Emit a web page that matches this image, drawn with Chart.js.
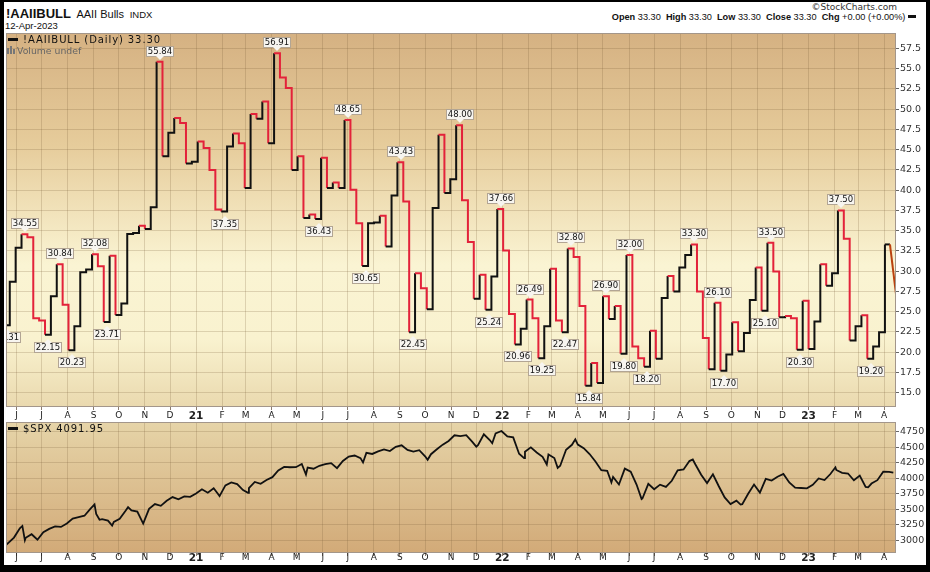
<!DOCTYPE html>
<html>
<head>
<meta charset="utf-8">
<script src="https://cdn.jsdelivr.net/npm/chart.js@4/dist/chart.umd.min.js"></script>
<style>
  html, body { margin: 0; padding: 0; background: #000; width: 930px; height: 572px; overflow: hidden; }
  #frame { position: absolute; left: 4px; top: 2px; width: 922px; height: 563px; background: #fff; }
  canvas { position: absolute; left: 0; }
  .t { position: absolute; white-space: nowrap; color: #111; }
  .sw { display: inline-block; width: 10px; height: 3px; background: #111; vertical-align: middle; margin-right: 5px; position: relative; top: -1px; }
</style>
</head>
<body>
<div id="frame"></div>

<div class="t" style="left:6px; top:6px; font: bold 13px 'Liberation Sans';">!AAIIBULL
  <span style="font: 11px 'Liberation Sans'; margin-left:2px;">AAII Bulls</span>
  <span style="font: 9.5px 'Liberation Sans'; margin-left:2px;">INDX</span></div>
<div class="t" style="left:5px; top:20px; font: 9.5px 'Liberation Sans';">12-Apr-2023</div>
<div class="t" style="right:33px; top:2px; font: 9px 'DejaVu Sans'; color:#333;">&copy;StockCharts.com</div>
<div class="t" style="right:14px; top:12px; font: 9.2px 'Liberation Sans';">
  <b>Open</b> 33.30&nbsp; <b>High</b> 33.30&nbsp; <b>Low</b> 33.30&nbsp; <b>Close</b> 33.30&nbsp; <b>Chg</b> +0.00 (+0.00%) <span class="sw" style="width:8px; margin:0;"></span></div>

<canvas id="bulls" width="930" height="422" style="top:0"></canvas>
<canvas id="spx" width="930" height="160" style="top:408px"></canvas>

<div class="t" style="left:8px; top:34px; font: 10px 'DejaVu Sans'; letter-spacing:0.9px;"><span class="sw"></span>!AAIIBULL (Daily) 33.30</div>
<div class="t" style="left:7px; top:45px; font: 9.3px 'DejaVu Sans'; color:#666;"><span style="display:inline-block;width:2px;height:6px;background:#777;margin-right:1px;"></span><span style="display:inline-block;width:2px;height:8px;background:#777;margin-right:1px;"></span><span style="display:inline-block;width:2px;height:5px;background:#777;margin-right:2px;"></span>Volume undef</div>
<div class="t" style="left:8px; top:423px; font: 10px 'DejaVu Sans'; letter-spacing:0.9px;"><span class="sw"></span>$SPX 4091.95</div>

<script>
// x positions are days counted from 1 Jun 2020
const DAY0 = Date.UTC(2020, 5, 1);
const dayOf = s => (Date.parse(s + 'T00:00:00Z') - DAY0) / 86400000;

const monthLabels = ['J','J','A','S','O','N','D',
  '21','F','M','A','M','J','J','A','S','O','N','D',
  '22','F','M','A','M','J','J','A','S','O','N','D',
  '23','F','M','A'];
const monthDays = monthLabels.map((_, i) => dayOf(new Date(Date.UTC(2020, 5 + i, 1)).toISOString().slice(0, 10)));

const xMin = -12.5, xMax = 1048.2;

// AAII bulls, weekly readings (%), first one at day -15
const bullFirstDay = -15;
const bullValues = [
  23.31, 28.70, 32.90, 34.55, 34.20, 24.20, 23.90, 22.15, 26.90, 30.84,
  25.85, 20.23, 23.20, 29.85, 30.20, 32.08, 30.60, 23.71, 31.90, 24.60,
  26.00, 34.60, 34.70, 35.60, 35.20, 37.90, 55.84, 44.20, 47.10, 48.90,
  48.30, 43.30, 43.50, 46.00, 45.20, 42.50, 37.60, 37.35, 45.40, 47.00,
  45.80, 40.25, 49.40, 48.80, 50.95, 45.80, 56.91, 53.90, 52.60, 42.50,
  44.20, 36.55, 37.00, 36.43, 44.00, 40.25, 40.95, 40.25, 48.65, 40.05,
  35.90, 30.65, 35.90, 36.00, 36.85, 33.05, 39.35, 43.43, 38.60, 22.45,
  29.75, 27.90, 25.30, 37.80, 46.85, 39.65, 41.35, 48.00, 38.75, 33.60,
  26.60, 29.55, 25.24, 29.35, 37.66, 32.55, 24.70, 20.96, 22.90, 26.49,
  24.20, 19.25, 23.20, 30.30, 23.90, 22.47, 32.80, 31.75, 25.70, 15.84,
  18.65, 16.20, 26.90, 24.10, 25.70, 19.80, 32.00, 20.70, 19.25, 18.20,
  22.65, 19.20, 26.70, 29.40, 27.50, 30.45, 32.00, 33.30, 27.50, 21.75,
  17.90, 26.10, 17.70, 19.70, 23.70, 20.10, 22.35, 26.45, 30.45, 25.10,
  33.50, 29.95, 24.30, 24.45, 24.20, 20.30, 26.35, 20.40, 23.80, 30.85,
  28.20, 29.75, 37.50, 34.00, 21.45, 23.20, 24.55, 19.20, 20.70, 22.45,
  33.30
];
const bullDays = bullValues.map((_, i) => bullFirstDay + 7 * i);
// last, partly drawn reading at the right edge
const tailDays = [1041, 1049];
const tailValues = [33.30, 26.50];

// labelled turning points (indexes into bullValues)
const peakIdx = [3, 9, 15, 26, 46, 58, 67, 77, 84, 89, 96, 102, 106, 117, 121, 130, 142];
const troughIdx = [0, 7, 11, 17, 37, 53, 61, 69, 82, 87, 91, 95, 99, 105, 109, 122, 129, 135, 147];

const bullTicks = [15, 17.5, 20, 22.5, 25, 27.5, 30, 32.5, 35, 37.5, 40, 42.5, 45, 47.5, 50, 52.5, 55, 57.5];
const bullMin = 13.23, bullMax = 59.4;

// S&P 500 weekly closes from 15 May 2020, last one 12 Apr 2023
const spxFirstDay = dayOf('2020-05-15');
const spxLastDay = dayOf('2023-04-12');
const spxWeekly = [
  2864, 2955, 3044, 3194, 3041, 3098, 3009, 3130, 3185, 3225, 3216, 3271,
  3351, 3373, 3397, 3508, 3427, 3341, 3319, 3298, 3348, 3477, 3484, 3465,
  3270, 3509, 3585, 3557, 3638, 3699, 3663, 3709, 3703, 3756,
  3825, 3768, 3841, 3714, 3887, 3934, 3907, 3811, 3842, 3943, 3913, 3975,
  4020, 4129, 4185, 4180, 4181, 4233, 4174, 4156, 4204, 4230, 4247, 4166, 4281,
  4352, 4370, 4327, 4412, 4395, 4437, 4468, 4442, 4509, 4535, 4459, 4433, 4455,
  4357, 4391, 4471, 4545, 4605, 4697, 4683, 4698, 4595, 4538, 4712, 4620, 4726, 4766,
  4677, 4663, 4398, 4432, 4501, 4419, 4349, 4385, 4329, 4204, 4463, 4543,
  4546, 4488, 4393, 4272, 4132, 4123, 4024, 3901, 4158, 4109, 3901, 3675, 3912,
  3825, 3899, 3863, 3962, 4130, 4145, 4280, 4228, 4058, 3924, 4067, 3873, 3693, 3586,
  3640, 3583, 3752, 3901, 3771, 3993, 3965, 4026, 4072, 3934, 3852, 3845, 3840,
  3895, 3999, 3973, 4071, 4136, 4090, 4079, 3970, 4046, 3862, 3917, 3971, 4109,
  4105, 4092
];
// mid-week highs and lows that show as spikes on the daily line
const spxExtraDates = ['2020-06-08', '2020-06-11', '2020-09-02', '2020-09-08', '2020-09-23', '2020-10-12',
  '2021-01-27', '2021-03-04', '2021-05-12', '2021-07-19', '2021-10-04', '2021-12-01', '2021-12-20',
  '2022-01-27', '2022-02-23', '2022-03-08', '2022-03-29', '2022-05-11', '2022-06-16', '2022-08-16',
  '2022-10-12', '2023-02-02', '2023-03-13'];
const spxExtraValues = [3232, 3002, 3580, 3332, 3237, 3535,
  3751, 3768, 4063, 4258, 4300, 4513, 4568,
  4327, 4225, 4170, 4632, 3935, 3666, 4305,
  3577, 4179, 3855];

const spxTicks = [3000, 3250, 3500, 3750, 4000, 4250, 4500, 4750];
const spxMin = 2795, spxMax = 4911;

const spxPoints = spxWeekly
  .map((v, i) => ({ x: i === spxWeekly.length - 1 ? spxLastDay : spxFirstDay + 7 * i, y: v }))
  .concat(spxExtraValues.map((v, i) => ({ x: dayOf(spxExtraDates[i]), y: v })))
  .sort((a, b) => a.x - b.x);

const upColor = '#111111';
const downColor = '#e3223a';
const gridColor = 'rgba(120, 92, 55, 0.22)';

const panelBg = {
  id: 'panelBg',
  beforeDraw(chart, args, opts) {
    const { ctx, chartArea: a } = chart;
    const g = ctx.createLinearGradient(0, a.top, 0, a.bottom);
    opts.stops.forEach(([p, c]) => g.addColorStop(p, c));
    ctx.save();
    ctx.fillStyle = g;
    ctx.fillRect(a.left, a.top, a.right - a.left, a.bottom - a.top);
    ctx.restore();
  },
  afterDraw(chart) {
    const { ctx, chartArea: a } = chart;
    ctx.save();
    ctx.strokeStyle = '#a3968a';
    ctx.lineWidth = 1;
    ctx.strokeRect(a.left + 0.5, a.top + 0.5, a.right - a.left - 1, a.bottom - a.top - 1);
    ctx.restore();
  }
};

const callouts = {
  id: 'callouts',
  afterDatasetsDraw(chart) {
    const { ctx, chartArea: a, scales: { x, y } } = chart;
    ctx.save();
    ctx.beginPath();
    ctx.rect(a.left, a.top, a.right - a.left, a.bottom - a.top);
    ctx.clip();
    ctx.font = '8.5px "DejaVu Sans"';
    ctx.textAlign = 'center';
    ctx.textBaseline = 'middle';
    const draw = (k, above) => {
      const v = bullValues[k];
      const txt = v.toFixed(2);
      const px = Math.round(x.getPixelForValue(bullDays[k] + 4));
      const py = y.getPixelForValue(v);
      const w = Math.round(ctx.measureText(txt).width) + 4, h = 11;
      const top = Math.round(above ? py - 5 - h : py + 7);
      const left = px - Math.round(w / 2);
      ctx.fillStyle = '#f7f5f0';
      ctx.fillRect(left, top, w, h);
      ctx.strokeStyle = '#b2a594';
      ctx.lineWidth = 1;
      ctx.strokeRect(left + 0.5, top + 0.5, w - 1, h - 1);
      ctx.fillStyle = '#f7f5f0';
      ctx.beginPath();
      if (above) {
        ctx.moveTo(px - 4, top + h - 1); ctx.lineTo(px + 4, top + h - 1); ctx.lineTo(px, top + h + 3);
      } else {
        ctx.moveTo(px - 4, top + 1); ctx.lineTo(px + 4, top + 1); ctx.lineTo(px, top - 3);
      }
      ctx.closePath();
      ctx.fill();
      ctx.fillStyle = '#111';
      ctx.fillText(txt, px, top + h / 2 + 0.5);
    };
    peakIdx.forEach(k => draw(k, true));
    troughIdx.forEach(k => draw(k, false));
    ctx.restore();
  }
};

function xAxis(pad) {
  return {
    type: 'linear',
    min: xMin,
    max: xMax,
    afterBuildTicks: s => { s.ticks = monthDays.map(v => ({ value: v })); },
    afterFit: s => { s.height = 15; },
    grid: { color: gridColor, tickLength: 3, tickColor: '#8c7c6c' },
    border: { display: false },
    ticks: {
      autoSkip: false, maxRotation: 0, minRotation: 0, padding: pad, color: '#222',
      font: c => monthLabels[c.index] && monthLabels[c.index].length === 2
        ? { family: 'DejaVu Sans', size: 10.5, weight: 'bold' }
        : { family: 'DejaVu Sans', size: 9 },
      callback: (v, i) => monthLabels[i]
    }
  };
}

function yAxis(min, max, ticks, fmt) {
  return {
    position: 'right',
    min: min,
    max: max,
    afterBuildTicks: s => { s.ticks = ticks.map(v => ({ value: v })); },
    afterFit: s => { s.width = 34; },
    grid: { color: gridColor, tickLength: 3, tickColor: '#666' },
    border: { display: false },
    ticks: { padding: 1, color: '#333', font: { family: 'DejaVu Sans', size: 9.5 }, callback: fmt }
  };
}

const common = {
  responsive: false,
  animation: false,
  events: [],
  plugins: { legend: { display: false }, tooltip: { enabled: false } }
};

new Chart(document.getElementById('bulls'), {
  type: 'line',
  data: {
    datasets: [{
      data: bullValues.map((v, i) => ({ x: bullDays[i], y: v })),
      stepped: true,
      borderWidth: 2,
      pointRadius: 0,
      borderColor: upColor,
      segment: { borderColor: c => c.p1.parsed.y < c.p0.parsed.y ? downColor : upColor }
    }, {
      data: [{ x: bullDays[bullDays.length - 1], y: bullValues[bullValues.length - 1] }]
        .concat(tailValues.map((v, i) => ({ x: tailDays[i], y: v }))),
      borderWidth: 2,
      pointRadius: 0,
      borderColor: upColor,
      segment: { borderColor: c => c.p1.parsed.y < c.p0.parsed.y ? '#b9410f' : upColor }
    }]
  },
  options: {
    ...common,
    layout: { autoPadding: false, padding: { left: 6, top: 33, right: 0, bottom: 0 } },
    scales: {
      x: xAxis(0),
      y: yAxis(bullMin, bullMax, bullTicks, v => v.toFixed(1))
    },
    plugins: {
      ...common.plugins,
      panelBg: { stops: [[0, '#d5b182'], [0.3, '#e6cc9b'], [0.62, '#faf4d3'], [0.82, '#f9f2cf'], [1, '#ead9ae']] }
    }
  },
  plugins: [panelBg, callouts]
});

new Chart(document.getElementById('spx'), {
  type: 'line',
  data: {
    datasets: [{
      data: spxPoints,
      borderWidth: 1.8,
      pointRadius: 0,
      borderColor: '#111',
      tension: 0
    }]
  },
  options: {
    ...common,
    layout: { autoPadding: false, padding: { left: 6, top: 14, right: 0, bottom: 0 } },
    scales: {
      x: xAxis(-4),
      y: yAxis(spxMin, spxMax, spxTicks, v => String(v))
    },
    plugins: {
      ...common.plugins,
      panelBg: { stops: [[0, '#e6d4a8'], [1, '#d2aa78']] }
    }
  },
  plugins: [panelBg]
});
</script>
</body>
</html>
